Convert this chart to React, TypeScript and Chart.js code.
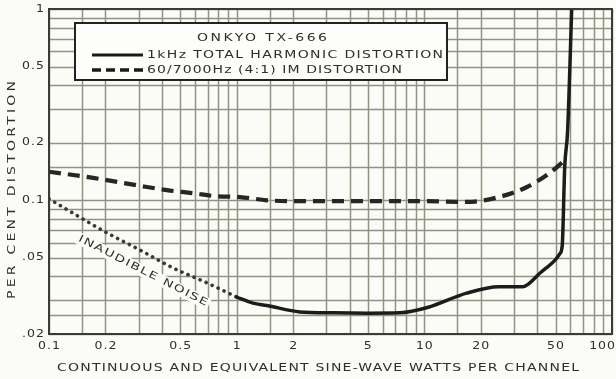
import { useEffect, useRef } from "react";
import { Chart, registerables } from "chart.js";

Chart.register(...registerables);

// ---- grid / tick definitions ----
const xGrid = [0.1, 0.15, 0.2, 0.3, 0.4, 0.5, 0.6, 0.7, 0.8, 0.9, 1, 1.5, 2, 3, 4, 5, 6, 7, 8, 9, 10, 15, 20, 30, 40, 50, 60, 70, 80, 90, 100];
const yGrid = [0.02, 0.025, 0.03, 0.04, 0.05, 0.06, 0.07, 0.08, 0.09, 0.1, 0.15, 0.2, 0.3, 0.4, 0.5, 0.6, 0.7, 0.8, 0.9, 1];
const xTickValues = [0.1, 0.2, 0.5, 1, 2, 5, 10, 20, 50, 100];
const xTickLabels = ["0.1", "0.2", "0.5", "1", "2", "5", "10", "20", "50", "100"];
const yTickValues = [0.02, 0.05, 0.1, 0.2, 0.5, 1];
const yTickLabels = [".02", ".05", "0.1", "0.2", "0.5", "1"];

// ---- series ----
const thdWatts = [1.0, 1.22, 1.45, 2.17, 3.26, 5, 7.4, 10.5, 16.8, 25, 33.4, 41.5, 50, 52.7, 54.3, 56, 58, 61];
const thdPct = [0.0312, 0.029, 0.0282, 0.0261, 0.0258, 0.0257, 0.0258, 0.0276, 0.0327, 0.0353, 0.0353, 0.0418, 0.049, 0.0525, 0.058, 0.15, 0.23, 1.0];

const imWatts = [0.1, 0.172, 0.305, 0.425, 0.584, 0.78, 1.04, 1.45, 2.17, 5, 9.5, 16.8, 25, 35, 46.6, 54.9];
const imPct = [0.141, 0.131, 0.119, 0.113, 0.109, 0.105, 0.104, 0.1, 0.099, 0.099, 0.099, 0.098, 0.104, 0.117, 0.139, 0.159];

const noiseWatts = [0.1, 0.146, 0.204, 0.305, 0.458, 0.695, 1.0];
const noisePct = [0.1018, 0.0816, 0.0675, 0.055, 0.0443, 0.037, 0.0312];

const chartTitle = "ONKYO TX-666";
const thdLabel = "1kHz TOTAL HARMONIC DISTORTION";
const imLabel = "60/7000Hz (4:1) IM DISTORTION";
const noiseLabel = "INAUDIBLE NOISE";
const xTitle = "CONTINUOUS AND EQUIVALENT SINE-WAVE WATTS PER CHANNEL";
const yTitle = "PER CENT DISTORTION";

const FONT = '"DejaVu Sans", sans-serif';
const INK = "#2e2e2a";
const BG = "#fbfbf7";
const GRID = "#929283";

function drawWide(ctx: CanvasRenderingContext2D, text: string, x: number, y: number, width: number, align: "left" | "center" | "right", maxStretch = 1.4) {
  (ctx as any).letterSpacing = "0px";
  ctx.textAlign = "left";
  const w0 = ctx.measureText(text).width;
  const stretch = Math.min(maxStretch, width / w0);
  const rest = width - w0 * stretch;
  const ls = text.length > 1 ? rest / (text.length - 1) / stretch : 0;
  (ctx as any).letterSpacing = ls.toFixed(3) + "px";
  const sx = align === "center" ? x - width / 2 : align === "right" ? x - width : x;
  ctx.save();
  ctx.translate(sx, y);
  ctx.scale(stretch, 1);
  ctx.fillText(text, 0, 0);
  ctx.restore();
  (ctx as any).letterSpacing = "0px";
}

function drawGrid(chart: any) {
  const ctx = chart.ctx as CanvasRenderingContext2D;
  const ca = chart.chartArea;
  const xs = chart.scales.x;
  const ys = chart.scales.y;
  ctx.save();
  ctx.setLineDash([]);
  ctx.strokeStyle = GRID;
  ctx.lineWidth = 1.5;
  ctx.beginPath();
  xGrid.forEach((v) => {
    const px = Math.round(xs.getPixelForValue(v)) + 0.5;
    ctx.moveTo(px, ca.top);
    ctx.lineTo(px, ca.bottom);
  });
  yGrid.forEach((v) => {
    const py = Math.round(ys.getPixelForValue(v)) + 0.5;
    ctx.moveTo(ca.left, py);
    ctx.lineTo(ca.right, py);
  });
  ctx.stroke();
  ctx.restore();
}

const decorPlugin = {
  id: "decor",
  beforeDraw(chart: any) {
    const ctx = chart.ctx as CanvasRenderingContext2D;
    ctx.save();
    ctx.fillStyle = BG;
    ctx.fillRect(0, 0, chart.width, chart.height);
    ctx.restore();
    drawGrid(chart);
  },
  afterDraw(chart: any) {
    const ctx = chart.ctx as CanvasRenderingContext2D;
    const ca = chart.chartArea;
    const xs = chart.scales.x;
    const ys = chart.scales.y;
    ctx.save();
    ctx.strokeStyle = "#3a3a36";
    ctx.lineWidth = 2;
    ctx.strokeRect(ca.left, ca.top, ca.right - ca.left, ca.bottom - ca.top);

    ctx.fillStyle = INK;
    ctx.font = `10px ${FONT}`;
    ctx.textBaseline = "middle";
    xTickValues.forEach((v, i) => {
      const px = xs.getPixelForValue(v);
      const t = xTickLabels[i];
      const w = ctx.measureText(t).width * 1.25 + (t.length - 1) * 1;
      let cx = px;
      if (cx + w / 2 > chart.width - 1) cx = chart.width - 1 - w / 2;
      drawWide(ctx, t, cx, ca.bottom + 12, w, "center", 1.25);
    });
    yTickValues.forEach((v, i) => {
      const py = ys.getPixelForValue(v);
      const t = yTickLabels[i];
      const w = ctx.measureText(t).width * 1.25 + (t.length - 1) * 1;
      let ty = py;
      if (ty < 6) ty = 6;
      drawWide(ctx, t, ca.left - 5, ty, w, "right", 1.25);
    });

    ctx.font = `10px ${FONT}`;
    drawWide(ctx, xTitle, 318, 368, 522, "center");
    ctx.save();
    ctx.translate(12, 190);
    ctx.rotate(-Math.PI / 2);
    drawWide(ctx, yTitle, 0, 0, 218, "center");
    ctx.restore();

    ctx.fillStyle = "#fdfdfb";
    ctx.fillRect(75, 23, 372, 57);
    ctx.strokeStyle = "#222";
    ctx.lineWidth = 2;
    ctx.strokeRect(75, 23, 372, 57);
    ctx.fillStyle = INK;
    ctx.font = `10px ${FONT}`;
    ctx.textBaseline = "middle";
    drawWide(ctx, chartTitle, 262, 38, 130, "center");
    drawWide(ctx, thdLabel, 147, 55, 296, "left");
    drawWide(ctx, imLabel, 147, 70, 255, "left");
    ctx.strokeStyle = "#1a1a1a";
    ctx.lineWidth = 3;
    ctx.setLineDash([]);
    ctx.beginPath();
    ctx.moveTo(92, 55);
    ctx.lineTo(143, 55);
    ctx.stroke();
    ctx.lineWidth = 3.5;
    ctx.setLineDash([9, 5]);
    ctx.beginPath();
    ctx.moveTo(92, 70);
    ctx.lineTo(143, 70);
    ctx.stroke();
    ctx.setLineDash([]);

    ctx.save();
    ctx.translate(143, 271);
    ctx.rotate((27 * Math.PI) / 180);
    ctx.font = `10px ${FONT}`;
    ctx.textBaseline = "middle";
    ctx.fillStyle = BG;
    ctx.fillRect(-74, -6, 148, 12);
    ctx.fillStyle = INK;
    drawWide(ctx, noiseLabel, 0, 0, 144, "center");
    ctx.restore();

    ctx.restore();
  },
};

export default function App() {
  const ref = useRef<HTMLCanvasElement | null>(null);
  useEffect(() => {
    document.body.style.margin = "0";
    const canvas = ref.current!;
    const chart = new Chart(canvas, {
      type: "line",
      data: {
        datasets: [
          {
            label: thdLabel,
            data: thdWatts.map((x, i) => ({ x, y: thdPct[i] })),
            borderColor: "#1c1c1a",
            borderWidth: 3.5,
            pointRadius: 0,
            cubicInterpolationMode: "monotone",
            borderCapStyle: "round",
            borderJoinStyle: "round",
          },
          {
            label: imLabel,
            data: imWatts.map((x, i) => ({ x, y: imPct[i] })),
            borderColor: "#262624",
            borderWidth: 4.2,
            borderDash: [12, 7],
            pointRadius: 0,
            cubicInterpolationMode: "monotone",
          },
          {
            label: noiseLabel,
            data: noiseWatts.map((x, i) => ({ x, y: noisePct[i] })),
            borderColor: "#383836",
            borderWidth: 3.6,
            borderDash: [0.1, 6.5],
            borderCapStyle: "round",
            pointRadius: 0,
            cubicInterpolationMode: "monotone",
          },
        ],
      },
      options: {
        animation: false,
        responsive: false,
        maintainAspectRatio: false,
        layout: { padding: { top: 9, right: 4, left: 0, bottom: 0 } },
        plugins: { legend: { display: false }, tooltip: { enabled: false }, title: { display: false } },
        scales: {
          x: {
            type: "logarithmic",
            min: 0.1,
            max: 100,
            afterFit: (s: any) => {
              s.height = 45;
            },
            ticks: { display: false },
            grid: { display: false, drawTicks: false },
            border: { display: false },
          },
          y: {
            type: "logarithmic",
            min: 0.02,
            max: 1,
            afterFit: (s: any) => {
              s.width = 49;
            },
            ticks: { display: false },
            grid: { display: false, drawTicks: false },
            border: { display: false },
          },
        },
      } as any,
      plugins: [decorPlugin],
    });
    return () => chart.destroy();
  }, []);
  return (
    <div style={{ width: 616, height: 379 }}>
      <canvas ref={ref} width={616} height={379} style={{ display: "block" }} />
    </div>
  );
}
